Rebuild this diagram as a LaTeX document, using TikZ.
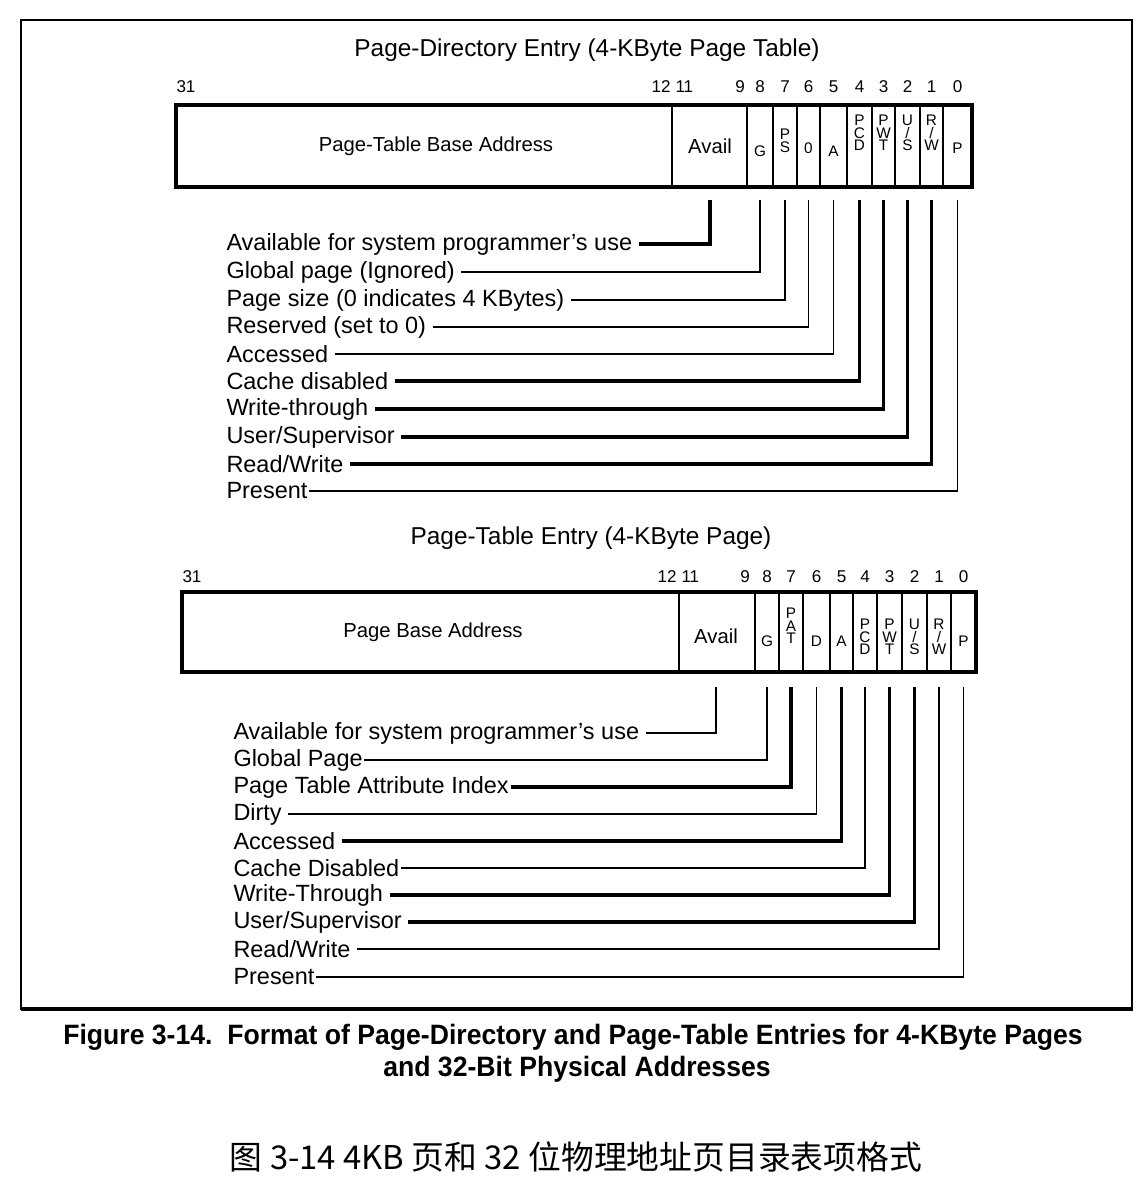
\documentclass[tikz,border=0pt]{standalone}
\usepackage{fontspec}
\setmainfont{Liberation Sans}
\newfontfamily\capfont{Liberation Sans}[FakeStretch=0.95]
\newfontfamily\cjkfont{Noto Sans CJK SC}

\tikzset{every picture/.style={line width=0.75pt}}
\tikzset{
  frm/.style={line width=1.9pt},
  regbox/.style={line width=2.3pt},
  divln/.style={line width=1.1pt},
  divbold/.style={line width=2.2pt},
  ttl/.style={inner sep=0pt, font=\fontsize{18.3}{20}\selectfont},
  bitno/.style={inner sep=0pt, font=\fontsize{12.8}{14}\selectfont},
  fldname/.style={inner sep=0pt, font=\fontsize{15.2}{17}\selectfont},
  flag/.style={inner sep=0pt, align=center, font=\fontsize{11.5}{9.4}\selectfont},
  desc/.style={anchor=west, inner sep=0pt, font=\fontsize{17.6}{20}\selectfont},
  lead/.style={line width=1.1pt, shorten <=4.5pt},
  leadbold/.style={line width=2.3pt, shorten <=4.5pt},
  tight/.style={shorten <=1pt},
  capt/.style={inner sep=0pt, font=\capfont\bfseries\fontsize{21}{24}\selectfont},
}

\begin{document}
\begin{tikzpicture}[x=0.75pt,y=0.75pt,yscale=-1,xscale=1]
\useasboundingbox (0,0) rectangle (1146,1186);
\fill[white] (0,0) rectangle (1146,1186);

%Shape: Frame
\draw[frm] (21,20) rectangle (1132,1009);
\draw[line width=3pt] (21,1009) -- (1133,1009);

%%% Page-directory entry
% Text Node
\node[ttl] (pdtitle) at (587,50) {Page-Directory Entry (4-KByte Page Table)};
%Shape: Rectangle
\draw[regbox] (176,105) rectangle (972,187);
%Straight Lines
\draw[divln] (672,105) -- (672,187) (747,105) -- (747,187) (773,105) -- (773,187) (797,105) -- (797,187)
  (872,105) -- (872,187) (895,105) -- (895,187) (943,105) -- (943,187);
\draw[divbold] (820,105) -- (820,187) (847,105) -- (847,187) (920,105) -- (920,187);

% Text Node
\node[fldname] (pdBase) at (436,146) {Page-Table Base Address};
\node[fldname] (pdAvail) at (710,146) {Avail};
\node[flag] (pdG) at (760,151) {G};
\node[flag] (pdPS) at (785,141) {P\\S};
\node[flag] (pdZero) at (808.5,148) {0};
\node[flag] (pdA) at (833.5,151) {A};
\node[flag] (pdPCD) at (859.5,133) {P\\C\\D};
\node[flag] (pdPWT) at (883.5,133) {P\\W\\T};
\node[flag] (pdUS) at (907.5,133) {U\\/\\S};
\node[flag] (pdRW) at (931.5,133) {R\\/\\W};
\node[flag] (pdP) at (957.5,148) {P};

% Text Node
\node[bitno] (pdb31) at (186,87) {31};
\node[bitno, anchor=east] (pdb12) at (671,87) {12};
\node[bitno, anchor=west] (pdb11) at (675,87) {11};
\node[bitno] (pdb9) at (740,87) {9};
\node[bitno] (pdb8) at (pdG |- pdb9) {8};
\node[bitno] (pdb7) at (pdPS |- pdb9) {7};
\node[bitno] (pdb6) at (pdZero |- pdb9) {6};
\node[bitno] (pdb5) at (pdA |- pdb9) {5};
\node[bitno] (pdb4) at (pdPCD |- pdb9) {4};
\node[bitno] (pdb3) at (pdPWT |- pdb9) {3};
\node[bitno] (pdb2) at (pdUS |- pdb9) {2};
\node[bitno] (pdb1) at (pdRW |- pdb9) {1};
\node[bitno] (pdb0) at (pdP |- pdb9) {0};

% Text Node
\coordinate (pdlow) at (0,200);
\node[desc] (pdd1) at (226,244) {Available for system programmer’s use};
\node[desc] (pdd2) at (226,272) {Global page (Ignored)};
\node[desc] (pdd3) at (226,300) {Page size (0 indicates 4 KBytes)};
\node[desc] (pdd4) at (226,327) {Reserved (set to 0)};
\node[desc] (pdd5) at (226,354) {Accessed};
\node[desc] (pdd6) at (226,381) {Cache disabled};
\node[desc] (pdd7) at (226,409) {Write-through};
\node[desc] (pdd8) at (226,437) {User/Supervisor};
\node[desc] (pdd9) at (226,464) {Read/Write};
\node[desc] (pdd10) at (226,491) {Present};

%Straight Lines
\draw[leadbold] (pdd1.east) -| (pdAvail |- pdlow);
\draw[lead] (pdd2.east) -| (pdG |- pdlow);
\draw[lead] (pdd3.east) -| (pdPS |- pdlow);
\draw[lead] (pdd4.east) -| (pdZero |- pdlow);
\draw[lead] (pdd5.east) -| (pdA |- pdlow);
\draw[leadbold] (pdd6.east) -| (pdPCD |- pdlow);
\draw[leadbold] (pdd7.east) -| (pdPWT |- pdlow);
\draw[leadbold] (pdd8.east) -| (pdUS |- pdlow);
\draw[leadbold] (pdd9.east) -| (pdRW |- pdlow);
\draw[lead, tight] (pdd10.east) -| (pdP |- pdlow);

%%% Page-table entry
% Text Node
\node[ttl] (pttitle) at (591,538) {Page-Table Entry (4-KByte Page)};
%Shape: Rectangle
\draw[regbox] (182,592) rectangle (976,672);
%Straight Lines
\draw[divln] (679,592) -- (679,672) (755,592) -- (755,672) (803,592) -- (803,672) (853,592) -- (853,672)
  (951,592) -- (951,672);
\draw[divbold] (779,592) -- (779,672) (830,592) -- (830,672) (877,592) -- (877,672) (902,592) -- (902,672)
  (927,592) -- (927,672);

% Text Node
\node[fldname] (ptBase) at (433,632) {Page Base Address};
\node[fldname] (ptAvail) at (716,636) {Avail};
\node[flag] (ptG) at (767,641) {G};
\node[flag] (ptPAT) at (791,626) {P\\A\\T};
\node[flag] (ptD) at (816.5,641) {D};
\node[flag] (ptA) at (841.5,641) {A};
\node[flag] (ptPCD) at (865,637) {P\\C\\D};
\node[flag] (ptPWT) at (889.5,637) {P\\W\\T};
\node[flag] (ptUS) at (914.5,637) {U\\/\\S};
\node[flag] (ptRW) at (939,637) {R\\/\\W};
\node[flag] (ptP) at (963.5,641) {P};

% Text Node
\node[bitno] (ptb31) at (192,577) {31};
\node[bitno, anchor=east] (ptb12) at (677,577) {12};
\node[bitno, anchor=west] (ptb11) at (681,577) {11};
\node[bitno] (ptb9) at (745,577) {9};
\node[bitno] (ptb8) at (ptG |- ptb9) {8};
\node[bitno] (ptb7) at (ptPAT |- ptb9) {7};
\node[bitno] (ptb6) at (ptD |- ptb9) {6};
\node[bitno] (ptb5) at (ptA |- ptb9) {5};
\node[bitno] (ptb4) at (ptPCD |- ptb9) {4};
\node[bitno] (ptb3) at (ptPWT |- ptb9) {3};
\node[bitno] (ptb2) at (ptUS |- ptb9) {2};
\node[bitno] (ptb1) at (ptRW |- ptb9) {1};
\node[bitno] (ptb0) at (ptP |- ptb9) {0};

% Text Node
\coordinate (ptlow) at (0,687);
\node[desc] (ptd1) at (233,733) {Available for system programmer’s use};
\node[desc] (ptd2) at (233,760) {Global Page};
\node[desc] (ptd3) at (233,787) {Page Table Attribute Index};
\node[desc] (ptd4) at (233,814) {Dirty};
\node[desc] (ptd5) at (233,841) {Accessed};
\node[desc] (ptd6) at (233,868) {Cache Disabled};
\node[desc] (ptd7) at (233,895) {Write-Through};
\node[desc] (ptd8) at (233,922) {User/Supervisor};
\node[desc] (ptd9) at (233,949) {Read/Write};
\node[desc] (ptd10) at (233,977) {Present};

%Straight Lines
\draw[lead] (ptd1.east) -| (ptAvail |- ptlow);
\draw[lead, tight] (ptd2.east) -| (ptG |- ptlow);
\draw[leadbold, tight] (ptd3.east) -| (ptPAT |- ptlow);
\draw[lead] (ptd4.east) -| (ptD |- ptlow);
\draw[leadbold] (ptd5.east) -| (ptA |- ptlow);
\draw[lead, tight] (ptd6.east) -| (ptPCD |- ptlow);
\draw[leadbold] (ptd7.east) -| (ptPWT |- ptlow);
\draw[leadbold] (ptd8.east) -| (ptUS |- ptlow);
\draw[lead] (ptd9.east) -| (ptRW |- ptlow);
\draw[lead, tight] (ptd10.east) -| (ptP |- ptlow);

%%% Captions
% Text Node
\node[capt] (cap1) at (573,1037) {Figure 3-14.\ \ Format of Page-Directory and Page-Table Entries for 4-KByte Pages};
\node[capt] (cap2) at (577,1069) {and 32-Bit Physical Addresses};
\node[inner sep=0pt, font=\cjkfont\fontsize{24.6}{28}\selectfont] (cap3) at (576,1157) {图 3-14 4KB 页和 32 位物理地址页目录表项格式};

\end{tikzpicture}
\end{document}
